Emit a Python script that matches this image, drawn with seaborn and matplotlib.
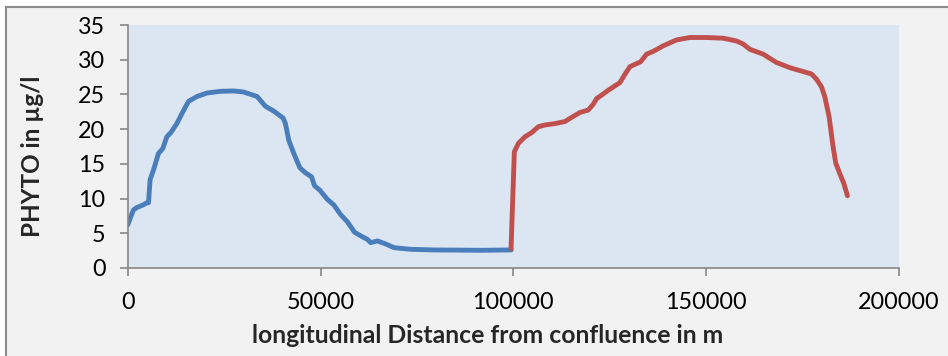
import matplotlib
matplotlib.use("Agg")
import matplotlib.pyplot as plt
from matplotlib.patches import Rectangle
import pandas as pd
import seaborn as sns

# upstream reach (blue)
dist_up = [0, 1470, 2340, 4070, 4940, 5400, 5800, 6850, 7970, 9100, 10140, 11180,
           12740, 14300, 15770, 17940, 20540, 24000, 27470, 30070, 33540, 35700,
           37870, 40300, 40900, 41770, 43070, 44630, 46100, 47660, 48440, 49830,
           51740, 53470, 55200, 56940, 58840, 60830, 62140, 63000, 64740, 66900,
           69070, 73400, 79470, 91600, 99460]
phyto_up = [6.2, 8.35, 8.7, 9.1, 9.4, 9.4, 12.7, 14.4, 16.5, 17.2, 18.9, 19.5,
            20.8, 22.5, 24.0, 24.7, 25.2, 25.45, 25.5, 25.35, 24.7, 23.3,
            22.6, 21.6, 20.8, 18.4, 16.5, 14.45, 13.7, 13.15, 11.85, 11.2,
            9.9, 9.07, 7.7, 6.67, 5.14, 4.5, 4.13, 3.65, 3.9, 3.46,
            2.93, 2.69, 2.6, 2.55, 2.6]

# downstream reach (red)
dist_down = [99400, 100260, 101300, 103020, 104750, 106480, 108200, 110800, 113390,
             114680, 117270, 119430, 120730, 121590, 122880, 124600, 127630, 128930,
             130230, 132990, 134540, 136270, 138860, 142320, 145770, 150000, 154400,
             157860, 159590, 161320, 164770, 166500, 168230, 171690, 175130, 177290,
             178590, 179890, 180750, 181870, 182900, 183600, 184640, 185680, 186630]
phyto_down = [2.75, 16.75, 17.95, 18.9, 19.5, 20.35, 20.6, 20.8, 21.1,
              21.55, 22.4, 22.75, 23.6, 24.4, 24.9, 25.6, 26.7, 27.9,
              29.0, 29.7, 30.8, 31.2, 32.0, 32.85, 33.2, 33.2, 33.1,
              32.7, 32.26, 31.5, 30.8, 30.2, 29.6, 28.85, 28.3, 27.95,
              27.2, 26.1, 24.7, 21.8, 17.5, 15.1, 13.6, 12.2, 10.4]

x_ticks = [0, 50000, 100000, 150000, 200000]
y_ticks = [0, 5, 10, 15, 20, 25, 30, 35]

df = pd.concat([
    pd.DataFrame({"dist": dist_up, "phyto": phyto_up, "reach": "up"}),
    pd.DataFrame({"dist": dist_down, "phyto": phyto_down, "reach": "down"}),
])

sns.set_style("white")
plt.rcParams['font.family'] = ['Lato', 'DejaVu Sans']

fig = plt.figure(figsize=(9.48, 3.56), dpi=100, facecolor="white")
# outer chart frame like the spreadsheet export
frame = Rectangle((6 / 948, -0.05), 1.2, 1 - 7 / 356 + 0.05,
                  transform=fig.transFigure, facecolor="#f2f2f2",
                  edgecolor="#8c8c8c", linewidth=1.5, zorder=-10)
fig.patches.append(frame)
ax = fig.add_axes([127.7 / 948, 1 - 268 / 356, 771.3 / 948, 243 / 356])
ax.set_zorder(5)
ax.set_facecolor("#dce6f2")

sns.lineplot(data=df, x="dist", y="phyto", hue="reach", sort=False, estimator=None,
             palette={"up": "#4a7ebb", "down": "#c0504d"}, linewidth=3.5,
             legend=False, ax=ax)
for ln in ax.lines:
    ln.set_solid_joinstyle("round")
    ln.set_solid_capstyle("round")

ax.set_xlim(0, 200000)
ax.set_ylim(0, 35)
ax.set_xticks(x_ticks)
ax.set_yticks(y_ticks)
ax.set_xticklabels([str(t) for t in x_ticks])
ax.set_yticklabels([str(t) for t in y_ticks])
for s in ["top", "right"]:
    ax.spines[s].set_visible(False)
for s in ["left", "bottom"]:
    ax.spines[s].set_color("#868686")
    ax.spines[s].set_linewidth(1.2)
ax.tick_params(axis="both", direction="out", length=6, width=1.2, color="#868686",
               labelsize=16.8, labelcolor="black")
ax.tick_params(axis="x", pad=11, bottom=True)
ax.tick_params(axis="y", pad=10, left=True)

ax.set_xlabel("longitudinal Distance from confluence in m", fontsize=17.8, fontweight="bold")
ax.set_ylabel("PHYTO in µg/l", fontsize=17.5, fontweight="bold")
ax.xaxis.set_label_coords(0.466, -0.276)
ax.yaxis.set_label_coords(-0.1228, 0.459)
ax.xaxis.label.set_va("center")
ax.yaxis.label.set_va("center")

fig.savefig("out.png", dpi=100, facecolor=fig.get_facecolor())
